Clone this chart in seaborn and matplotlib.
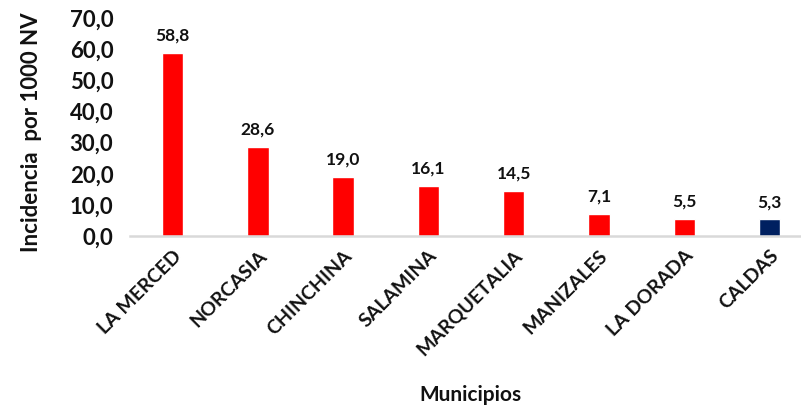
import pandas as pd
import seaborn as sns
import matplotlib.pyplot as plt

municipios = ['LA MERCED', 'NORCASIA', 'CHINCHINA', 'SALAMINA', 'MARQUETALIA',
              'MANIZALES', 'LA DORADA', 'CALDAS']
incidencia = [58.8, 28.6, 19.0, 16.1, 14.5, 7.1, 5.5, 5.3]
colores = ['#FF0000'] * 7 + ['#002060']
y_ticks = [0, 10, 20, 30, 40, 50, 60, 70]

df = pd.DataFrame({'Municipio': municipios, 'Incidencia': incidencia})

sns.set_theme(style="white")
plt.rcParams['font.family'] = ['Lato', 'DejaVu Sans']
txt = '#111111'

fig = plt.figure(figsize=(8.01, 4.09), dpi=100)
ax = fig.add_axes([130 / 801, 1 - 236 / 409, 671 / 801, 218 / 409])

sns.barplot(data=df, x='Municipio', y='Incidencia', hue='Municipio',
            palette=colores, legend=False, width=0.25, saturation=1, ax=ax)

for i, v in enumerate(incidencia):
    ax.text(i, v + 3, f'{v:.1f}'.replace('.', ','), ha='center', va='bottom',
            fontsize=12.5, fontweight='bold', color=txt)

ax.set_ylim(0, 70)
ax.set_xlim(-0.5, 7.37)
ax.set_yticks(y_ticks)
ax.set_yticklabels([f'{t:.1f}'.replace('.', ',') for t in y_ticks],
                   fontsize=16, fontweight='bold', color=txt)
ax.set_xticks(range(len(municipios)))
ax.set_xticklabels(municipios, rotation=45, ha='right', rotation_mode='anchor',
                   fontsize=14, fontweight='bold', color=txt)
ax.tick_params(axis='both', length=0)
ax.tick_params(axis='x', pad=8)
ax.tick_params(axis='y', pad=12)

for s in ['top', 'right', 'left']:
    ax.spines[s].set_visible(False)
ax.spines['bottom'].set_color('#D9D9D9')
ax.spines['bottom'].set_linewidth(1.8)

ax.set_xlabel('')
ax.set_ylabel('')
fig.text(32 / 801, 1 - 132 / 409, 'Incidencia  por 1000 NV', rotation=90,
         ha='center', va='center', fontsize=16, fontweight='bold', color=txt)
fig.text(470 / 801, 1 - 395 / 409, 'Municipios', ha='center', va='center',
         fontsize=15, fontweight='bold', color=txt)

fig.savefig('out.png', dpi=100)
